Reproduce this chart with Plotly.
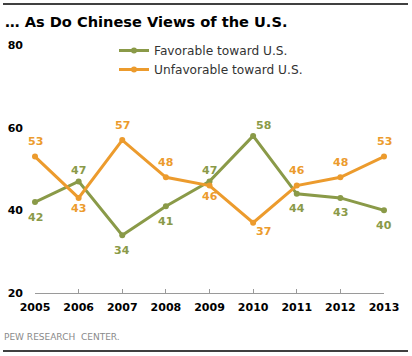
import plotly.graph_objects as go

years = [2005, 2006, 2007, 2008, 2009, 2010, 2011, 2012, 2013]
favorable = [42, 47, 34, 41, 47, 58, 44, 43, 40]
unfavorable = [53, 43, 57, 48, 46, 37, 46, 48, 53]
fav_pos = ["below", "above", "below", "below", "above", "above", "below", "below", "below"]
unfav_pos = ["above", "below", "above", "above", "below", "below", "above", "above", "above"]
y_ticks = [20, 40, 60, 80]

GREEN = "#8A9A48"
ORANGE = "#EC9B2D"
FONT = "DejaVu Sans"

W, H = 412, 356
L, R, T, B = 35, 28, 45, 63
pw, ph = W - L - R, H - T - B


def px_x(x):
    return (x - L) / pw


def px_y(y):
    return (H - B - y) / ph


fig = go.Figure()
fig.add_trace(go.Scatter(
    x=years, y=favorable, mode="lines+markers", name="Favorable toward U.S.",
    line=dict(color=GREEN, width=3), marker=dict(size=6, color=GREEN),
    cliponaxis=False))
fig.add_trace(go.Scatter(
    x=years, y=unfavorable, mode="lines+markers", name="Unfavorable toward U.S.",
    line=dict(color=ORANGE, width=3), marker=dict(size=6, color=ORANGE),
    cliponaxis=False))

annotations = []
for series, pos, color in [(favorable, fav_pos, GREEN), (unfavorable, unfav_pos, ORANGE)]:
    for yr, v, p in zip(years, series, pos):
        xs = 10 if yr == 2010 else 0
        if yr in (2006, 2009):
            ys = 11 if p == "above" else -11
        elif yr == 2010:
            ys = 10 if p == "above" else -9
        else:
            ys = 15 if p == "above" else -15
        annotations.append(dict(
            x=yr, y=v, xref="x", yref="y", text=str(v), showarrow=False,
            xshift=xs, yshift=ys,
            font=dict(family=FONT, size=11, color=color, weight="bold")))

annotations.append(dict(
    x=px_x(3), y=px_y(21), xref="paper", yref="paper", xanchor="left", yanchor="middle",
    text="… As Do Chinese Views of the U.S.", showarrow=False,
    font=dict(family=FONT, size=14.6, color="#000000", weight="bold")))
annotations.append(dict(
    x=px_x(2), y=px_y(337), xref="paper", yref="paper", xanchor="left", yanchor="middle",
    text="PEW RESEARCH  CENTER.", showarrow=False,
    font=dict(family=FONT, size=9, color="#8a8a8a")))

shapes = [
    dict(type="line", xref="paper", yref="paper", x0=px_x(3), x1=px_x(408),
         y0=px_y(4), y1=px_y(4), line=dict(color="#000000", width=1.5)),
    dict(type="line", xref="paper", yref="paper", x0=px_x(3), x1=px_x(408),
         y0=px_y(351), y1=px_y(351), line=dict(color="#000000", width=1.5)),
]

fig.update_layout(
    width=W, height=H, margin=dict(l=L, r=R, t=T, b=B),
    paper_bgcolor="#ffffff", plot_bgcolor="#ffffff",
    font=dict(family=FONT),
    showlegend=True,
    legend=dict(x=px_x(114), y=px_y(36), xanchor="left", yanchor="top",
                bgcolor="rgba(0,0,0,0)", font=dict(family=FONT, size=12.2, color="#333333"),
                tracegroupgap=0, itemwidth=30),
    xaxis=dict(range=[2005, 2013], tickmode="array", tickvals=years,
               ticktext=[str(y) for y in years], showgrid=False, zeroline=False,
               showline=True, linecolor="#9a9a9a", linewidth=1,
               ticks="inside", ticklen=4, tickcolor="#9a9a9a",
               ticklabelstandoff=4, automargin=False,
               tickfont=dict(family=FONT, size=11, color="#000000", weight="bold")),
    yaxis=dict(range=[20, 80], tickmode="array", tickvals=y_ticks,
               showgrid=False, zeroline=False, showline=False, ticks="",
               ticklabelstandoff=11, automargin=False,
               tickfont=dict(family=FONT, size=11, color="#000000", weight="bold")),
    annotations=annotations, shapes=shapes,
)

fig.write_html("out.html", config={"displayModeBar": False},
               post_script="document.body.style.margin='0';")
